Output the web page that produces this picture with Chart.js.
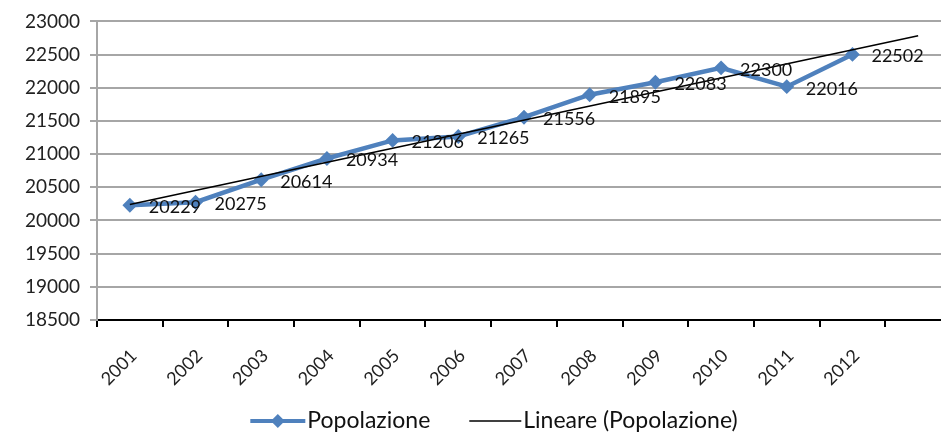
<!DOCTYPE html>
<html>
<head>
<meta charset="utf-8">
<script src="https://cdn.jsdelivr.net/npm/chart.js@4/dist/chart.umd.min.js"></script>
<style>
  html, body { margin: 0; padding: 0; background: #ffffff; overflow: hidden; width: 941px; height: 432px; }
  canvas { display: block; }
</style>
</head>
<body>
<canvas id="chart" width="959" height="432"></canvas>
<script>
// Resident population by year
const years = ['2001', '2002', '2003', '2004', '2005', '2006', '2007', '2008', '2009', '2010', '2011', '2012'];
const popolazione = [20229, 20275, 20614, 20934, 21206, 21265, 21556, 21895, 22083, 22300, 22016, 22502];
// Linear trend: value at 2001 and one period forecast past 2012
const trendEnds = [20241, 22783];
const yTicks = [18500, 19000, 19500, 20000, 20500, 21000, 21500, 22000, 22500, 23000];
const seriesNames = ['Popolazione', 'Lineare (Popolazione)'];

const BLUE = '#4F81BD';
const FONT = 'Lato, "Open Sans", sans-serif';
const LABEL_SIZE = 18;
const AXIS_SIZE = 19;
const LEGEND_SIZE = 23;
const LEGEND_CENTER_X = 494;
const LEGEND_Y = 421;

// one extra empty slot on the category axis carries the trend forecast
const labels = years.concat(['']);
const trendData = labels.map((_, i) => i === 0 ? trendEnds[0] : (i === labels.length - 1 ? trendEnds[1] : null));

// value labels to the right of each marker
const valueLabels = {
  id: 'valueLabels',
  afterDatasetsDraw(chart) {
    const meta = chart.getDatasetMeta(0);
    const ctx = chart.ctx;
    ctx.save();
    ctx.font = LABEL_SIZE + 'px ' + FONT;
    ctx.fillStyle = '#111111';
    ctx.textAlign = 'left';
    ctx.textBaseline = 'middle';
    meta.data.forEach((pt, i) => {
      const v = chart.data.datasets[0].data[i];
      if (v == null) return;
      ctx.fillText(String(v), pt.x + 19, pt.y + 2);
    });
    ctx.restore();
  }
};

// legend row: line-with-diamond sample and plain line sample
const legendRow = {
  id: 'legendRow',
  afterDraw(chart) {
    const ctx = chart.ctx;
    ctx.save();
    ctx.font = LEGEND_SIZE + 'px ' + FONT;
    ctx.textBaseline = 'middle';
    ctx.textAlign = 'left';
    const w1 = ctx.measureText(seriesNames[0]).width;
    const w2 = ctx.measureText(seriesNames[1]).width;
    const sample1 = 55, sample2 = 52, gapText = 2, gapItems = 39;
    const total = sample1 + gapText + w1 + gapItems + sample2 + gapText + w2;
    let x = LEGEND_CENTER_X - total / 2;
    const y = LEGEND_Y;

    ctx.strokeStyle = BLUE;
    ctx.lineWidth = 4;
    ctx.beginPath();
    ctx.moveTo(x, y);
    ctx.lineTo(x + sample1, y);
    ctx.stroke();
    const cx = x + sample1 / 2;
    ctx.fillStyle = BLUE;
    ctx.beginPath();
    ctx.moveTo(cx - 7, y);
    ctx.lineTo(cx, y - 7);
    ctx.lineTo(cx + 7, y);
    ctx.lineTo(cx, y + 7);
    ctx.closePath();
    ctx.fill();
    x += sample1 + gapText;
    ctx.fillStyle = '#111111';
    ctx.fillText(seriesNames[0], x, y);
    x += w1 + gapItems;

    ctx.strokeStyle = '#000000';
    ctx.lineWidth = 1.5;
    ctx.beginPath();
    ctx.moveTo(x, y);
    ctx.lineTo(x + sample2, y);
    ctx.stroke();
    x += sample2 + gapText;
    ctx.fillText(seriesNames[1], x, y);
    ctx.restore();
  }
};

new Chart(document.getElementById('chart'), {
  type: 'line',
  data: {
    labels: labels,
    datasets: [
      {
        label: seriesNames[0],
        data: popolazione,
        borderColor: BLUE,
        backgroundColor: BLUE,
        borderWidth: 4.5,
        pointStyle: 'rectRot',
        pointRadius: 6,
        pointBorderWidth: 2,
        pointBackgroundColor: BLUE,
        pointBorderColor: BLUE,
        tension: 0,
        order: 1
      },
      {
        label: seriesNames[1],
        data: trendData,
        borderColor: '#000000',
        borderWidth: 1.5,
        pointRadius: 0,
        spanGaps: true,
        tension: 0,
        order: 0
      }
    ]
  },
  options: {
    responsive: false,
    animation: false,
    devicePixelRatio: 1,
    layout: { padding: { top: 20, left: 0, right: 0, bottom: 0 } },
    plugins: {
      legend: { display: false },
      tooltip: { enabled: false }
    },
    scales: {
      x: {
        type: 'category',
        offset: true,
        grid: {
          offset: true,
          drawOnChartArea: false,
          drawTicks: true,
          tickLength: 7,
          color: '#000000',
          lineWidth: 2
        },
        border: { color: '#000000', width: 2 },
        ticks: {
          autoSkip: false,
          minRotation: 45,
          maxRotation: 45,
          padding: 18,
          labelOffset: 4,
          color: '#222222',
          font: { family: FONT, size: LABEL_SIZE }
        },
        afterFit(scale) { scale.height = 112; }
      },
      y: {
        min: yTicks[0],
        max: yTicks[yTicks.length - 1],
        afterBuildTicks(scale) { scale.ticks = yTicks.map(v => ({ value: v })); },
        grid: {
          color: '#a6a6a6',
          lineWidth: 2,
          tickLength: 7
        },
        border: { color: '#a6a6a6', width: 2 },
        ticks: {
          padding: 10,
          color: '#222222',
          font: { family: FONT, size: AXIS_SIZE },
          callback: (v) => String(v)
        },
        afterFit(scale) { scale.width = 97; }
      }
    }
  },
  plugins: [valueLabels, legendRow]
});
</script>
</body>
</html>
